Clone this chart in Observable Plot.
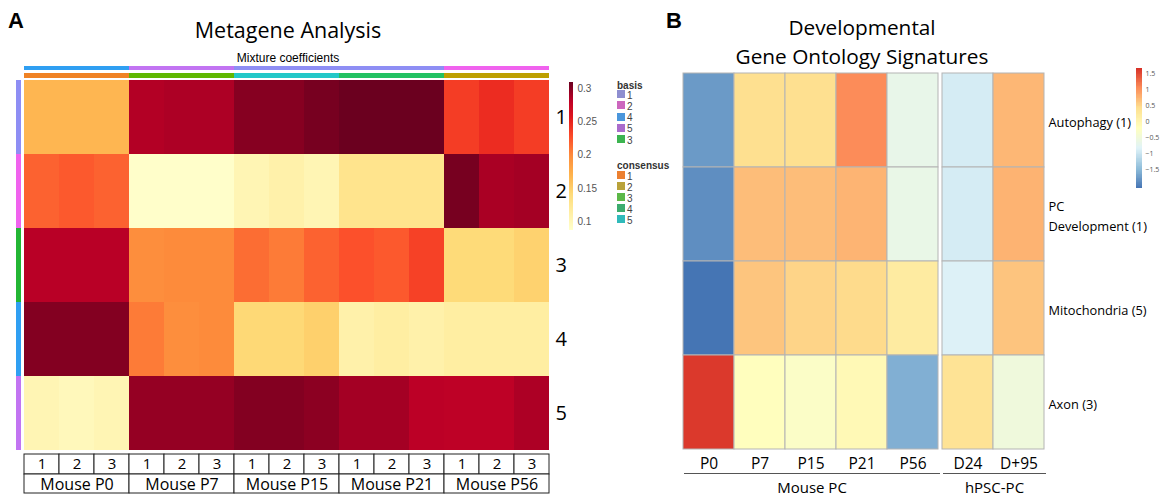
<!DOCTYPE html>
<html><head><meta charset="utf-8">
<script src="https://cdn.jsdelivr.net/npm/d3@7"></script>
<script src="https://cdn.jsdelivr.net/npm/@observablehq/plot@0.6"></script>
<style>
html,body{margin:0;padding:0;background:#fff;}
#root{position:relative;width:1161px;height:501px;overflow:hidden;font-family:"Open Sans",sans-serif;color:#000;}
.abs{position:absolute;white-space:nowrap;line-height:1;}
</style></head><body>
<div id="root"></div>
<script>
// ---------- Panel A data ----------
const aGroups = ["Mouse P0","Mouse P7","Mouse P15","Mouse P21","Mouse P56"];
const aReps = ["1","2","3"];
const metagenes = ["1","2","3","4","5"];
const coefRow1 = [0.167,0.167,0.167, 0.285,0.287,0.287, 0.300,0.300,0.305, 0.309,0.309,0.309, 0.235,0.244,0.235];
const coefRow2 = [0.217,0.221,0.217, 0.088,0.088,0.088, 0.102,0.108,0.102, 0.127,0.127,0.127, 0.305,0.288,0.290];
const coefRow3 = [0.283,0.283,0.283, 0.197,0.199,0.199, 0.212,0.206,0.217, 0.225,0.221,0.233, 0.140,0.140,0.147];
const coefRow4 = [0.301,0.301,0.301, 0.206,0.197,0.199, 0.142,0.142,0.149, 0.108,0.113,0.108, 0.113,0.113,0.113];
const coefRow5 = [0.102,0.097,0.102, 0.295,0.295,0.295, 0.301,0.301,0.298, 0.290,0.290,0.282, 0.281,0.281,0.287];
const groupBasis = ["4","5","1","1","2"];
const groupConsensus = ["1","3","5","4","2"];
const rowBasis = ["1","2","3","4","5"];
const basisLegend = ["1","2","4","5","3"];
const consensusLegend = ["1","2","3","4","5"];
const coefTicks = [0.1,0.15,0.2,0.25,0.3];
const coefRange = [0.0865,0.3095];

// ---------- Panel B data ----------
const goTerms = ["Autophagy (1)","PC Development (1)","Mitochondria (5)","Axon (3)"];
const goTermLabels = ["Autophagy (1)","PC\nDevelopment (1)","Mitochondria (5)","Axon (3)"];
const mouseStages = ["P0","P7","P15","P21","P56"];
const hpscStages = ["D24","D+95"];
const goAutophagy     = [-1.78, 0.41, 0.41, 1.04, -0.68, -0.93, 0.72];
const goPCDevelopment = [-1.88, 0.67, 0.67, 0.74, -0.65, -0.93, 0.75];
const goMitochondria  = [-2.09, 0.61, 0.50, 0.45, 0.19, -0.86, 0.62];
const goAxon          = [1.60, -0.20, -0.30, -0.10, -1.60, 0.35, -0.53];
const goTicks = [1.5,1,0.5,0,-0.5,-1,-1.5];
const goRange = [-2.09,1.66];

// ---------- palettes ----------
const basisColors = {"1":"#8E8EF4","2":"#F062EE","3":"#22B634","4":"#2F9FF2","5":"#C274F2"};
const consensusColors = {"1":"#F08224","2":"#BDA000","3":"#5FB800","4":"#22C262","5":"#22C8C8"};
const basisLegendColors = {"1":"#8E8ED0","2":"#CC66BE","3":"#3CB450","4":"#4A96DC","5":"#AA6CCC"};
const consensusLegendColors = {"1":"#EC8030","2":"#B9A23A","3":"#5CB848","4":"#3CAC6E","5":"#30BABA"};
const ylorrd = ["#FFFFCC","#FFEDA0","#FED976","#FEB24C","#FD8D3C","#FC4E2A","#E31A1C","#BD0026","#6A001F"];
const rdylbu = ["#4575B4","#91BFDB","#E0F3F8","#FFFFBF","#FEE090","#FC8D59","#D73027"];

const coefColor = {type:"linear", domain: coefRange, interpolate: d3.piecewise(d3.interpolateRgb, ylorrd)};
const goColor = {type:"linear", domain: goRange, interpolate: d3.piecewise(d3.interpolateRgb, rdylbu)};

const root = document.getElementById("root");
const baseStyle = {background:"transparent", overflow:"visible", maxWidth:"none", fontFamily:"'Open Sans', sans-serif", color:"#000"};
function place(node, left, top) {
  const d = document.createElement("div");
  d.style.position = "absolute"; d.style.left = left + "px"; d.style.top = top + "px";
  d.appendChild(node); root.appendChild(d); return d;
}
function label(text, left, top, css) {
  const d = document.createElement("div");
  d.className = "abs"; d.textContent = text;
  d.style.left = left + "px"; d.style.top = top + "px";
  Object.assign(d.style, css || {});
  root.appendChild(d); return d;
}
const minusFmt = d => d < 0 ? "\u2212" + Math.abs(d) : String(d);

// ---------- Panel A ----------
const colIds = aGroups.flatMap(g => aReps.map(r => g + "|" + r));
const coefRows = [coefRow1, coefRow2, coefRow3, coefRow4, coefRow5];
const coefData = metagenes.flatMap((m, i) => colIds.map((c, j) => ({metagene: m, col: c, value: coefRows[i][j]})));

label("A", 8, 8, {font:"bold 22px 'Liberation Sans', Arial, sans-serif"});
label("Metagene Analysis", 288, 19, {fontSize:"21.5px", transform:"translateX(-50%)"});
label("Mixture coefficients", 288, 51, {font:"12px 'Liberation Sans', Arial, sans-serif", transform:"translateX(-50%)"});

// top annotation bars
place(Plot.plot({width:529, height:4, margin:0, style:baseStyle,
  x:{domain:aGroups, padding:0, axis:null}, color:{type:"identity"},
  marks:[Plot.cell(aGroups, {x:d=>d, fill:(d,i)=>basisColors[groupBasis[i]], inset:0, shapeRendering:"crispEdges"})]}), 22, 66);
place(Plot.plot({width:529, height:5, margin:0, style:baseStyle,
  x:{domain:aGroups, padding:0, axis:null}, color:{type:"identity"},
  marks:[Plot.cell(aGroups, {x:d=>d, fill:(d,i)=>consensusColors[groupConsensus[i]], inset:0, shapeRendering:"crispEdges"})]}), 22, 73);

// left annotation bar
place(Plot.plot({width:5, height:372, margin:0, style:baseStyle,
  y:{domain:metagenes, padding:0, axis:null}, color:{type:"identity"},
  marks:[Plot.cell(metagenes, {y:d=>d, fill:(d,i)=>basisColors[rowBasis[i]], inset:0, shapeRendering:"crispEdges"})]}), 16, 79);

// heatmap A
place(Plot.plot({width:549, height:372, marginTop:0, marginBottom:0, marginLeft:0, marginRight:20, style:baseStyle,
  x:{domain:colIds, padding:0, axis:null}, y:{domain:metagenes, padding:0},
  color:coefColor,
  marks:[
    Plot.cell(coefData, {x:"col", y:"metagene", fill:"value", inset:0, shapeRendering:"crispEdges"}),
    Plot.axisY({anchor:"right", tickSize:0, tickPadding:4, fontSize:20, label:null})
  ]}), 22, 79);

// bottom label boxes
place(Plot.plot({width:529, height:20, margin:0, style:baseStyle,
  x:{domain:colIds, padding:0, axis:null},
  marks:[
    Plot.cell(colIds, {x:d=>d, fill:"white", stroke:"#222", strokeWidth:1, inset:0}),
    Plot.text(colIds, {x:d=>d, text:d=>d.split("|")[1], fontSize:15})
  ]}), 22, 454);
place(Plot.plot({width:529, height:19, margin:0, style:baseStyle,
  x:{domain:aGroups, padding:0, axis:null},
  marks:[
    Plot.cell(aGroups, {x:d=>d, fill:"white", stroke:"#222", strokeWidth:1, inset:0}),
    Plot.text(aGroups, {x:d=>d, text:d=>d, fontSize:16, dy:0.5})
  ]}), 22, 474);

// colour bar A
const coefSteps = d3.range(150).map(i => ({y1: coefRange[0] + i*(coefRange[1]-coefRange[0])/150, y2: coefRange[0] + (i+1)*(coefRange[1]-coefRange[0])/150}));
place(Plot.plot({width:40, height:160, marginTop:6, marginBottom:6, marginLeft:4, marginRight:32, style:{...baseStyle, fontFamily:"'Liberation Sans', Arial, sans-serif"},
  x:{domain:[0,1], axis:null}, y:{domain:coefRange}, color:coefColor,
  marks:[
    Plot.rect(coefSteps, {x1:0, x2:1, y1:"y1", y2:"y2", fill:d=>(d.y1+d.y2)/2, shapeRendering:"crispEdges"}),
    Plot.axisY({anchor:"right", ticks:coefTicks, tickSize:0, tickPadding:4, fontSize:10, fill:"#555", tickFormat:d=>String(d), label:null})
  ]}), 565, 76);

// basis / consensus legend
const legFont = "'Liberation Sans', Arial, sans-serif";
label("basis", 617, 80, {font:"bold 10px " + legFont, color:"#333"});
basisLegend.forEach((b, i) => {
  const y = 90 + i*11.3;
  label("", 617, y, {width:"8px", height:"8px", background:basisLegendColors[b]});
  label(b, 627, y - 0.5, {font:"10px " + legFont, color:"#444"});
});
label("consensus", 617, 160, {font:"bold 10px " + legFont, color:"#333"});
consensusLegend.forEach((c, i) => {
  const y = 171 + i*11;
  label("", 617, y, {width:"8px", height:"8px", background:consensusLegendColors[c]});
  label(c, 627, y - 0.5, {font:"10px " + legFont, color:"#444"});
});

// ---------- Panel B ----------
const allStages = [...mouseStages, ...hpscStages];
const goRows = [goAutophagy, goPCDevelopment, goMitochondria, goAxon];
const goData = goTerms.flatMap((t, i) => allStages.map((s, j) => ({term:t, stage:s, value:goRows[i][j]})));

label("B", 666, 8, {font:"bold 22px 'Liberation Sans', Arial, sans-serif"});
const tB = label("", 862, 13, {fontSize:"20.8px", lineHeight:"29px", textAlign:"center", transform:"translateX(-50%)"});
tB.innerHTML = "Developmental<br>Gene Ontology Signatures";

const cellStroke = "#b4b4b4";
place(Plot.plot({width:257, height:405, marginTop:0, marginLeft:0, marginRight:0, marginBottom:28, style:baseStyle,
  x:{domain:mouseStages, padding:0}, y:{domain:goTerms, padding:0, axis:null}, color:goColor,
  marks:[
    Plot.cell(goData.filter(d => mouseStages.includes(d.stage)), {x:"stage", y:"term", fill:"value", stroke:cellStroke, strokeWidth:1, inset:0}),
    Plot.axisX({tickSize:0, tickPadding:8, fontSize:15.5, label:null})
  ]}), 682, 72);
place(Plot.plot({width:220, height:405, marginTop:0, marginLeft:0, marginRight:118, marginBottom:28, style:baseStyle,
  x:{domain:hpscStages, padding:0}, y:{domain:goTerms, padding:0}, color:goColor,
  marks:[
    Plot.cell(goData.filter(d => hpscStages.includes(d.stage)), {x:"stage", y:"term", fill:"value", stroke:cellStroke, strokeWidth:1, inset:0}),
    Plot.axisX({tickSize:0, tickPadding:8, fontSize:15.5, label:null}),
    Plot.axisY({anchor:"right", tickSize:0, tickPadding:4, fontSize:12.8, lineHeight:1.55, label:null, tickFormat:d => goTermLabels[goTerms.indexOf(d)]})
  ]}), 942, 72);

// group underlines
label("Mouse PC", 684, 473, {width:"256px", borderTop:"1px solid #555", textAlign:"center", fontSize:"15px", paddingTop:"6px"});
label("hPSC-PC", 943, 473, {width:"103px", borderTop:"1px solid #555", textAlign:"center", fontSize:"15px", paddingTop:"6px"});

// colour bar B
const goSteps = d3.range(150).map(i => ({y1: goRange[0] + i*(goRange[1]-goRange[0])/150, y2: goRange[0] + (i+1)*(goRange[1]-goRange[0])/150}));
place(Plot.plot({width:30, height:132, marginTop:6, marginBottom:6, marginLeft:2, marginRight:22, style:baseStyle,
  x:{domain:[0,1], axis:null}, y:{domain:goRange}, color:goColor,
  marks:[
    Plot.rect(goSteps, {x1:0, x2:1, y1:"y1", y2:"y2", fill:d=>(d.y1+d.y2)/2, shapeRendering:"crispEdges"}),
    Plot.axisY({anchor:"right", ticks:goTicks, tickSize:0, tickPadding:3, fontSize:7, fill:"#555", label:null, tickFormat:minusFmt})
  ]}), 1134, 62);
</script>
</body></html>
